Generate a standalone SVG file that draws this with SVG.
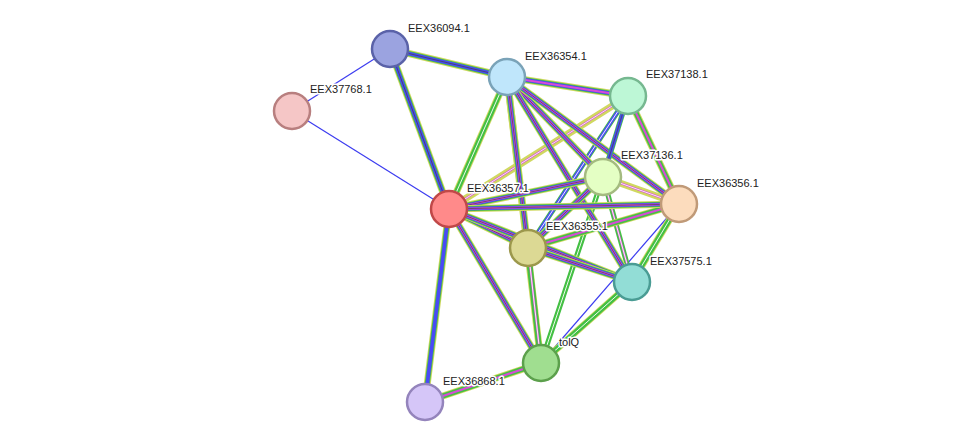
<svg xmlns="http://www.w3.org/2000/svg" xmlns:xlink="http://www.w3.org/1999/xlink" width="975" height="448" viewBox="0 0 975 448">
<style>
.y{stroke:#d0d860;stroke-width:7;fill:none}
.g{stroke:#44c044;stroke-width:5.2;fill:none}
.b{stroke:#4a4af5;stroke-width:3.6;fill:none}
.m{stroke:#d84ad8;stroke-width:2;fill:none}
.k{stroke:#444;stroke-width:0.7;fill:none}
.w{stroke:#fff;stroke-width:0.9;fill:none}
.s{stroke:#3c3cf0;stroke-width:1.2;fill:none}
.n circle{stroke-width:2.5}
text{font-family:"Liberation Sans",Arial,sans-serif;font-size:11px;fill:#222;stroke:#fff;stroke-width:3;paint-order:stroke;stroke-linejoin:round}
</style>
<defs>
<path id="e3" d="M390,49L449,209"/><path id="e4" d="M390,49L507,77"/>
<path id="e5" d="M507,77L628,96"/><path id="e6" d="M507,77L449,209"/>
<path id="e7" d="M507,77L603,177"/><path id="e8" d="M507,77L679,204"/>
<path id="e9" d="M507,77L528,248"/><path id="e10" d="M507,77L632,282"/>
<path id="e11" d="M507,77L541,363"/><path id="e12" d="M628,96L603,177"/>
<path id="e13" d="M628,96L679,204"/><path id="e14" d="M628,96L449,209"/>
<path id="e15" d="M628,96L528,248"/><path id="e16" d="M603,177L449,209"/>
<path id="e17" d="M603,177L679,204"/><path id="e18" d="M603,177L528,248"/>
<path id="e19" d="M603,177L632,282"/><path id="e20" d="M603,177L541,363"/>
<path id="e21" d="M449,209L679,204"/><path id="e22" d="M449,209L528,248"/>
<path id="e23" d="M449,209L632,282"/><path id="e24" d="M449,209L541,363"/>
<path id="e25" d="M449,209L425,402"/><path id="e26" d="M679,204L528,248"/>
<path id="e27" d="M679,204L632,282"/><path id="e29" d="M528,248L632,282"/>
<path id="e30" d="M528,248L541,363"/><path id="e31" d="M632,282L541,363"/>
<path id="e32" d="M541,363L425,402"/>
</defs>
<g id="edges">
<path class="s" d="M292,111L390,49"/><path class="s" d="M292,111L449,209"/><path class="s" d="M679,204L541,363"/>
<use href="#e3" class="y"/><use href="#e3" class="g"/><use href="#e3" class="b"/><use href="#e3" class="k"/>
<use href="#e4" class="y"/><use href="#e4" class="g"/><use href="#e4" class="b"/><use href="#e4" class="k"/>
<use href="#e5" class="y"/><use href="#e5" class="g"/><use href="#e5" class="b"/><use href="#e5" class="m"/>
<use href="#e6" class="y"/><use href="#e6" class="g"/><use href="#e6" class="w"/>
<use href="#e11" class="y"/><use href="#e11" class="g"/><use href="#e11" class="w"/>
<use href="#e13" class="y"/><use href="#e13" class="g"/><use href="#e13" class="m"/>
<use href="#e14" class="y"/><use href="#e14" class="m"/><use href="#e14" class="w"/>
<use href="#e15" class="g"/><use href="#e15" class="b"/><use href="#e15" class="w"/>
<use href="#e17" class="y"/><use href="#e17" class="m"/><use href="#e17" class="w"/>
<use href="#e19" class="g"/><use href="#e19" class="m"/><use href="#e19" class="w"/>
<use href="#e20" class="g"/><use href="#e20" class="w"/>
<use href="#e26" class="y"/><use href="#e26" class="g"/><use href="#e26" class="m"/>
<use href="#e27" class="y"/><use href="#e27" class="g"/><use href="#e27" class="w"/>
<use href="#e30" class="g"/><use href="#e30" class="m"/><use href="#e30" class="w"/>
<use href="#e31" class="y"/><use href="#e31" class="g"/><use href="#e31" class="w"/>
<use href="#e32" class="y"/><use href="#e32" class="g"/><use href="#e32" class="m"/>
<use href="#e25" class="y"/><use href="#e25" class="g"/><use href="#e25" class="b"/>
<use href="#e7" class="y"/><use href="#e7" class="g"/><use href="#e7" class="b"/><use href="#e7" class="m"/><use href="#e7" class="k"/>
<use href="#e8" class="y"/><use href="#e8" class="g"/><use href="#e8" class="b"/><use href="#e8" class="m"/><use href="#e8" class="k"/>
<use href="#e9" class="y"/><use href="#e9" class="g"/><use href="#e9" class="b"/><use href="#e9" class="m"/><use href="#e9" class="k"/>
<use href="#e10" class="y"/><use href="#e10" class="g"/><use href="#e10" class="b"/><use href="#e10" class="m"/><use href="#e10" class="k"/>
<use href="#e12" class="g"/><use href="#e12" class="b"/><use href="#e12" class="k"/>
<use href="#e16" class="y"/><use href="#e16" class="g"/><use href="#e16" class="b"/><use href="#e16" class="m"/><use href="#e16" class="k"/>
<use href="#e18" class="y"/><use href="#e18" class="g"/><use href="#e18" class="b"/><use href="#e18" class="m"/><use href="#e18" class="k"/>
<use href="#e21" class="y"/><use href="#e21" class="g"/><use href="#e21" class="b"/><use href="#e21" class="m"/><use href="#e21" class="k"/>
<use href="#e22" class="y"/><use href="#e22" class="g"/><use href="#e22" class="b"/><use href="#e22" class="m"/><use href="#e22" class="k"/>
<use href="#e23" class="y"/><use href="#e23" class="g"/><use href="#e23" class="b"/><use href="#e23" class="m"/><use href="#e23" class="k"/>
<use href="#e24" class="y"/><use href="#e24" class="g"/><use href="#e24" class="b"/><use href="#e24" class="m"/><use href="#e24" class="k"/>
<use href="#e29" class="y"/><use href="#e29" class="g"/><use href="#e29" class="b"/><use href="#e29" class="m"/><use href="#e29" class="k"/>
</g>
<g id="EEX36094.1" class="n"><circle cx="390" cy="49" r="18" fill="#9ba3e0" stroke="#5a62a8"/><text x="408" y="32">EEX36094.1</text></g>
<g id="EEX37768.1" class="n"><circle cx="292" cy="111" r="18" fill="#f5c6c6" stroke="#b87f7f"/><text x="310" y="93">EEX37768.1</text></g>
<g id="EEX36354.1" class="n"><circle cx="507" cy="77" r="18" fill="#bfe6fb" stroke="#7aa3b8"/><text x="525" y="60">EEX36354.1</text></g>
<g id="EEX37138.1" class="n"><circle cx="628" cy="96" r="18" fill="#bdf7d6" stroke="#76b890"/><text x="646" y="78">EEX37138.1</text></g>
<g id="EEX37136.1" class="n"><circle cx="603" cy="177" r="18" fill="#e4ffc4" stroke="#a4bb80"/><text x="621" y="159">EEX37136.1</text></g>
<g id="EEX36357.1" class="n"><circle cx="449" cy="209" r="18" fill="#ff8a8a" stroke="#c04848"/><text x="467" y="192">EEX36357.1</text></g>
<g id="EEX36356.1" class="n"><circle cx="679" cy="204" r="18" fill="#fcdcbd" stroke="#c09a78"/><text x="697" y="187">EEX36356.1</text></g>
<g id="EEX36355.1" class="n"><circle cx="528" cy="248" r="18" fill="#dcd994" stroke="#9c984c"/><text x="546" y="230">EEX36355.1</text></g>
<g id="EEX37575.1" class="n"><circle cx="632" cy="282" r="18" fill="#92ddd6" stroke="#4a9c94"/><text x="650" y="265">EEX37575.1</text></g>
<g id="tolQ" class="n"><circle cx="541" cy="363" r="18" fill="#a0de90" stroke="#5ca04c"/><text x="559" y="346">tolQ</text></g>
<g id="EEX36868.1" class="n"><circle cx="425" cy="402" r="18" fill="#d5c6f8" stroke="#9484bc"/><text x="443" y="385">EEX36868.1</text></g>
</svg>
